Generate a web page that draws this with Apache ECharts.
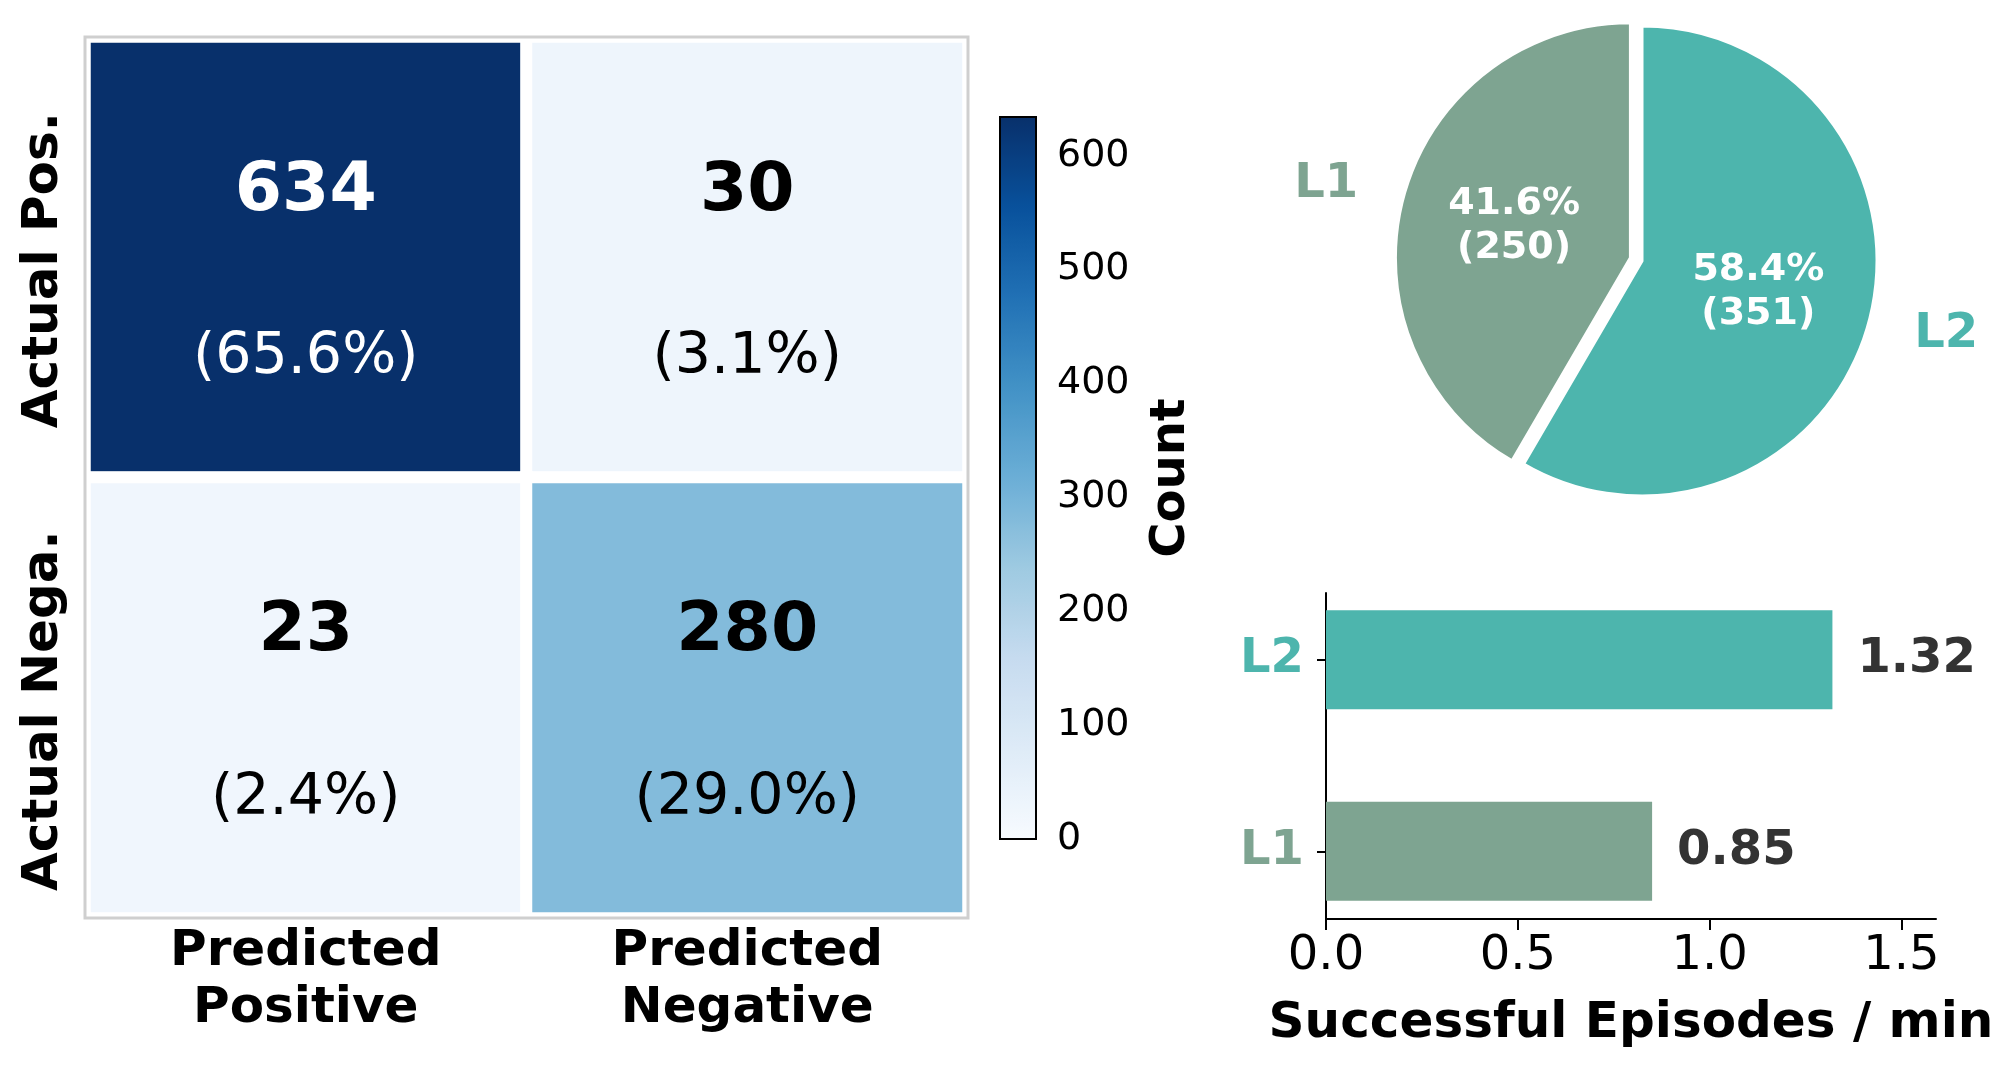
<!DOCTYPE html>
<html>
<head>
<meta charset="utf-8">
<script src="https://cdn.jsdelivr.net/npm/echarts@6/dist/echarts.min.js"></script>
<style>
  html, body { margin: 0; padding: 0; background: #fff; }
  #main { width: 1997px; height: 1067px; }
</style>
</head>
<body>
<div id="main"></div>
<script>
// confusion matrix
const predLabels = ['Predicted\nPositive', 'Predicted\nNegative'];
const actualLabels = ['Actual Pos.', 'Actual Nega.'];
const cmCounts = [
	[634, 30],
	[23, 280]
];
const colorbarTicks = [0, 100, 200, 300, 400, 500, 600];
const cmMax = 634;

// pie + bar
const levels = ['L1', 'L2'];
const levelColors = ['#7ea491', '#4db5ad'];
const episodes = [250, 351];
const ratePerMin = [0.85, 1.32];
const rateTicks = [0, 0.5, 1.0, 1.5];
const rateMax = 1.59;

const blues = ['#f7fbff', '#deebf7', '#c6dbef', '#9ecae1', '#6baed6', '#4292c6', '#2171b5', '#08519c', '#08306b'];
const FONT = 'DejaVu Sans';

let total = 0;
cmCounts.forEach(row => row.forEach(v => total += v));

const heatData = [];
cmCounts.forEach((row, r) => {
	row.forEach((v, c) => {
		const pct = (v / total * 100).toFixed(1);
		const dark = v > cmMax * 0.6;
		heatData.push({
			value: [c, r, v],
			label: {
				formatter: dark ? `{aw|${v}}\n{bw|(${pct}%)}` : `{a|${v}}\n{b|(${pct}%)}`
			}
		});
	});
});

const chart = echarts.init(document.getElementById('main'));

const option = {
	backgroundColor: '#fff',
	animation: false,
	textStyle: { fontFamily: FONT },
	grid: [
		// 0: heatmap
		{ left: 85, top: 37, width: 883, height: 881, show: false },
		// 1: heatmap frame
		{ left: 85, top: 37, width: 883, height: 881, show: true, borderColor: '#cfcfcf', borderWidth: 3, z: 5 },
		// 2: colorbar outline + ticks
		{ left: 1000, top: 117, width: 36, height: 722, show: true, borderColor: '#000', borderWidth: 2, z: 5 },
		// 3: bars
		{ left: 1326, top: 564, width: 610, height: 383 },
		// 4: bar axes
		{ left: 1326, top: 593, width: 610, height: 326 }
	],
	visualMap: {
		type: 'continuous',
		seriesIndex: 0,
		min: 0,
		max: cmMax,
		left: 1000,
		top: 117,
		itemWidth: 36,
		itemHeight: 722,
		padding: 0,
		calculable: false,
		hoverLink: false,
		inRange: { color: blues }
	},
	xAxis: [
		{
			gridIndex: 0,
			type: 'category',
			data: predLabels,
			axisLine: { show: false },
			axisTick: { show: false },
			splitLine: { show: false },
			axisLabel: {
				interval: 0,
				margin: 6,
				fontSize: 50,
				fontWeight: 'bold',
				lineHeight: 57,
				color: '#000'
			}
		},
		{ gridIndex: 1, type: 'value', show: false },
		{ gridIndex: 2, type: 'value', show: false },
		{ gridIndex: 3, type: 'value', min: 0, max: rateMax, show: false },
		{
			gridIndex: 4,
			type: 'value',
			min: 0,
			max: rateMax,
			splitLine: { show: false },
			axisLine: { show: true, lineStyle: { color: '#000', width: 2 } },
			axisTick: {
				show: true,
				length: 11,
				customValues: rateTicks,
				lineStyle: { color: '#000', width: 2 }
			},
			axisLabel: {
				customValues: rateTicks,
				formatter: v => v.toFixed(1),
				fontSize: 48,
				color: '#000',
				margin: 14
			},
			name: 'Successful Episodes / min',
			nameLocation: 'middle',
			nameGap: 80,
			nameTextStyle: { fontSize: 50, fontWeight: 'bold', color: '#000' }
		}
	],
	yAxis: [
		{
			gridIndex: 0,
			type: 'category',
			data: actualLabels,
			inverse: true,
			axisLine: { show: false },
			axisTick: { show: false },
			splitLine: { show: false },
			axisLabel: {
				interval: 0,
				rotate: 90,
				margin: 16,
				fontSize: 50,
				fontWeight: 'bold',
				color: '#000',
				padding: [0, 26, 0, 0]
			}
		},
		{ gridIndex: 1, type: 'value', show: false },
		{
			gridIndex: 2,
			type: 'value',
			position: 'right',
			min: 0,
			max: cmMax,
			splitLine: { show: false },
			axisLine: { show: false },
			axisTick: {
				show: true,
				length: 10,
				customValues: colorbarTicks,
				lineStyle: { color: '#000', width: 2 }
			},
			axisLabel: {
				customValues: colorbarTicks,
				fontSize: 38,
				color: '#000',
				margin: 21
			},
			name: 'Count',
			nameLocation: 'middle',
			nameRotate: 90,
			nameGap: 112,
			nameTextStyle: { fontSize: 48, fontWeight: 'bold', color: '#000' }
		},
		{
			gridIndex: 3,
			type: 'category',
			data: levels,
			axisLine: { show: false },
			axisTick: {
				show: true,
				alignWithLabel: true,
				length: 9,
				lineStyle: { color: '#000', width: 2 }
			},
			axisLabel: {
				margin: 22,
				fontSize: 48,
				fontWeight: 'bold',
				color: (v, i) => levelColors[levels.indexOf(v)]
			}
		},
		{
			gridIndex: 4,
			type: 'value',
			min: 0,
			max: 1,
			splitLine: { show: false },
			axisTick: { show: false },
			axisLabel: { show: false },
			axisLine: { show: true, lineStyle: { color: '#000', width: 2 } }
		}
	],
	series: [
		{
			type: 'heatmap',
			xAxisIndex: 0,
			yAxisIndex: 0,
			data: heatData,
			itemStyle: { borderColor: '#fff', borderWidth: 12 },
			emphasis: { disabled: true },
			label: {
				show: true,
				offset: [0, 18],
				rich: {
					a: { fontSize: 68, fontWeight: 'bold', color: '#000', lineHeight: 166 },
					b: { fontSize: 57, color: '#000', lineHeight: 166 },
					aw: { fontSize: 68, fontWeight: 'bold', color: '#fff', lineHeight: 166 },
					bw: { fontSize: 57, color: '#fff', lineHeight: 166 }
				}
			}
		},
		{
			type: 'pie',
			center: [1642, 261],
			radius: [0, 235],
			startAngle: 90,
			clockwise: false,
			selectedMode: 'multiple',
			selectedOffset: 12,
			percentPrecision: 1,
			avoidLabelOverlap: false,
			emphasis: { disabled: true },
			itemStyle: { borderColor: '#fff', borderWidth: 3 },
			label: {
				show: true,
				position: 'inside',
				formatter: '{d}%\n({c})',
				color: '#fff',
				fontSize: 38,
				fontWeight: 'bold',
				lineHeight: 44
			},
			labelLine: { show: false },
			data: levels.map((n, i) => ({
				name: n,
				value: episodes[i],
				selected: i === 0,
				itemStyle: { color: levelColors[i] }
			}))
		},
		{
			type: 'pie',
			center: [1642, 261],
			radius: [0, 235],
			startAngle: 90,
			clockwise: false,
			selectedMode: 'multiple',
			selectedOffset: 12,
			silent: true,
			avoidLabelOverlap: false,
			emphasis: { disabled: true },
			itemStyle: { color: 'rgba(0,0,0,0)', borderWidth: 0 },
			label: {
				show: true,
				position: 'outside',
				formatter: '{b}',
				fontSize: 48,
				fontWeight: 'bold',
				distanceToLabelLine: 0
			},
			labelLine: { show: false, length: 47, length2: 0 },
			data: levels.map((n, i) => ({
				name: n,
				value: episodes[i],
				selected: i === 0,
				label: { color: levelColors[i] }
			}))
		},
		{
			type: 'bar',
			xAxisIndex: 3,
			yAxisIndex: 3,
			barWidth: 99,
			emphasis: { disabled: true },
			data: ratePerMin.map((v, i) => ({
				value: v,
				itemStyle: { color: levelColors[i] }
			})),
			label: {
				show: true,
				position: 'right',
				distance: 25,
				formatter: p => p.value.toFixed(2),
				fontSize: 48,
				fontWeight: 'bold',
				color: '#333'
			}
		}
	]
};

chart.setOption(option);
</script>
</body>
</html>
